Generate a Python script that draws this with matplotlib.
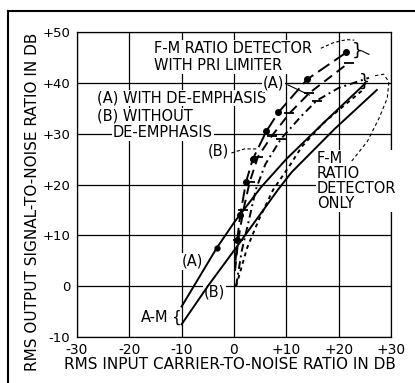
import matplotlib
matplotlib.use("Agg")
import matplotlib.pyplot as plt
from matplotlib.lines import Line2D

plt.rcParams['font.family'] = ['DejaVu Sans']

# axis ticks
x_ticks = [-30, -20, -10, 0, 10, 20, 30]
x_tick_labels = ['-30', '-20', '-10', '0', '+10', '+20', '+30']
y_ticks = [-10, 0, 10, 20, 30, 40, 50]
y_tick_labels = ['-10', '0', '+10', '+20', '+30', '+40', '+50']

# A-M receiver, (A) with de-emphasis and (B) without
am_a_x = [-10, -3.3, 0, 5.2, 10, 17, 25]
am_a_y = [-4, 7.5, 12.5, 19.5, 25, 32, 39.8]
am_b_x = [-10, -5, 0, 8.5, 11, 19.2, 27.3]
am_b_y = [-7.5, 0, 7, 19.1, 22.4, 30.9, 38.6]

# F-M ratio detector with PRI limiter
pri_a_x = [0.3, 0.6, 1.2, 2.3, 3.6, 6.2, 8.5, 14, 21.5]
pri_a_y = [5, 9, 14, 20.5, 25, 30.5, 34.2, 40.7, 46]
pri_b_x = [0.2, 0.8, 1.8, 3.0, 4.6, 7.2, 10.6, 14.4, 22]
pri_b_y = [3, 9, 15, 20.5, 25.5, 29.5, 34, 38, 44]

# F-M ratio detector only
fmo_a_x = [0.4, 1.5, 2.9, 4.2, 6, 9, 12.9, 15.8, 20, 25.8]
fmo_a_y = [0, 7, 13.2, 19.1, 24, 29, 33.5, 36.5, 39, 41]
fmo_b_x = [0.4, 2.5, 4.8, 7.5, 10.5, 13, 17, 21, 24.5]
fmo_b_y = [0, 7.5, 13.2, 19, 23.5, 27.5, 32, 35.5, 38.5]

fig = plt.figure(figsize=(4.15, 3.83), dpi=100)
ax = fig.add_axes([0.1855, 0.1201, 0.7566, 0.7963])
ax.set_xlim(-30, 30)
ax.set_ylim(-10, 50)
ax.set_xticks(x_ticks, x_tick_labels, fontsize=10)
ax.set_yticks(y_ticks, y_tick_labels, fontsize=9.5)
ax.tick_params(axis='both', length=0)
ax.tick_params(axis='x', pad=4)
ax.tick_params(axis='y', pad=5)
ax.grid(True, color='black', lw=0.9, zorder=1)
ax.set_axisbelow(True)
for s in ax.spines.values():
    s.set_linewidth(0.9)

lw = 1.4
ax.plot(am_a_x, am_a_y, color='black', lw=lw, marker='o', ms=3.5,
        markevery=[1], zorder=4)
ax.plot(am_b_x, am_b_y, color='black', lw=lw, zorder=4)
ax.plot(pri_a_x, pri_a_y, color='black', lw=lw, dashes=(7, 3),
        marker='o', ms=4, markevery=list(range(1, len(pri_a_x))), zorder=4)
ax.plot(pri_b_x, pri_b_y, color='black', lw=lw, dashes=(5, 3),
        marker='_', ms=7, mew=1.3, markevery=list(range(1, len(pri_b_x))), zorder=4)
ax.plot(fmo_a_x, fmo_a_y, color='black', lw=lw, dashes=(4, 2, 1, 2),
        marker='_', ms=7, mew=1.3, markevery=[5, 7], zorder=4)
ax.plot(fmo_b_x, fmo_b_y, color='black', lw=lw, dashes=(2, 2), zorder=4)

box = dict(facecolor='white', edgecolor='none', pad=0.6)
txt = dict(fontsize=10.5, color='black', zorder=3, bbox=box)

ax.text(-15.3, 45.1, 'F-M RATIO DETECTOR\nWITH PRI LIMITER', ha='left', va='center',
        linespacing=1.15, **txt)
ax.text(-26.2, 37.0, '(A) WITH DE-EMPHASIS', ha='left', va='center', **txt)
ax.text(-26.2, 33.4, '(B) WITHOUT', ha='left', va='center', **txt)
ax.text(-23.1, 30.2, 'DE-EMPHASIS', ha='left', va='center', **txt)
ax.text(15.8, 20.7, 'F-M\nRATIO\nDETECTOR\nONLY', ha='left', va='center',
        linespacing=1.0, **txt)
ax.text(7.5, 39.9, '(A)', ha='center', va='center', **txt)
ax.text(-3.0, 26.5, '(B)', ha='center', va='center', **txt)
ax.text(-7.9, 4.9, '(A)', ha='center', va='center', **txt)
ax.text(-3.7, -1.2, '(B)', ha='center', va='center', **txt)
ax.text(-15.2, -6.2, 'A-M', ha='center', va='center', **txt)
ax.text(-11.0, -6.2, '{', ha='center', va='center', fontsize=11, zorder=3)
ax.text(23.6, 46.3, '}', ha='center', va='center', fontsize=13, zorder=3)
ax.text(24.9, 40.3, '}', ha='center', va='center', fontsize=13, zorder=3)

# leaders
thin = dict(color='black', lw=0.8, zorder=3)
ax.plot([16.6, 19.0, 21.5, 23.0], [46.8, 47.9, 48.5, 48.4], dashes=(3, 2), **thin)
ax.plot([24.4, 25.8], [46.3, 45.6], **thin)
ax.plot([10.3, 13.2], [39.9, 39.9], **thin)
ax.plot([10.3, 14.4], [39.6, 37.6], **thin)
ax.plot([-0.5, 2.0, 4.6], [26.2, 27.0, 27.0], dashes=(3, 2), **thin)
ax.plot([22.5, 25.5, 27.7, 29.3, 29.6, 28.6, 26.4], [24.6, 28.5, 33.0, 37.0, 40.2, 41.7, 41.3],
        dashes=(3, 2.5), **thin)

fig.text(0.079, 0.472, 'RMS OUTPUT SIGNAL-TO-NOISE RATIO IN DB', rotation=90,
         ha='center', va='center', fontsize=11)
fig.text(0.554, 0.0496, 'RMS INPUT CARRIER-TO-NOISE RATIO IN DB',
         ha='center', va='center', fontsize=11)

# page frame
fig.add_artist(Line2D([8 / 415, 8 / 415], [0, 1 - 11 / 383], transform=fig.transFigure,
                      color='black', lw=1.5))
fig.add_artist(Line2D([8 / 415, 1], [1 - 11 / 383, 1 - 11 / 383], transform=fig.transFigure,
                      color='black', lw=1.5))

fig.savefig('out.png', dpi=100)
